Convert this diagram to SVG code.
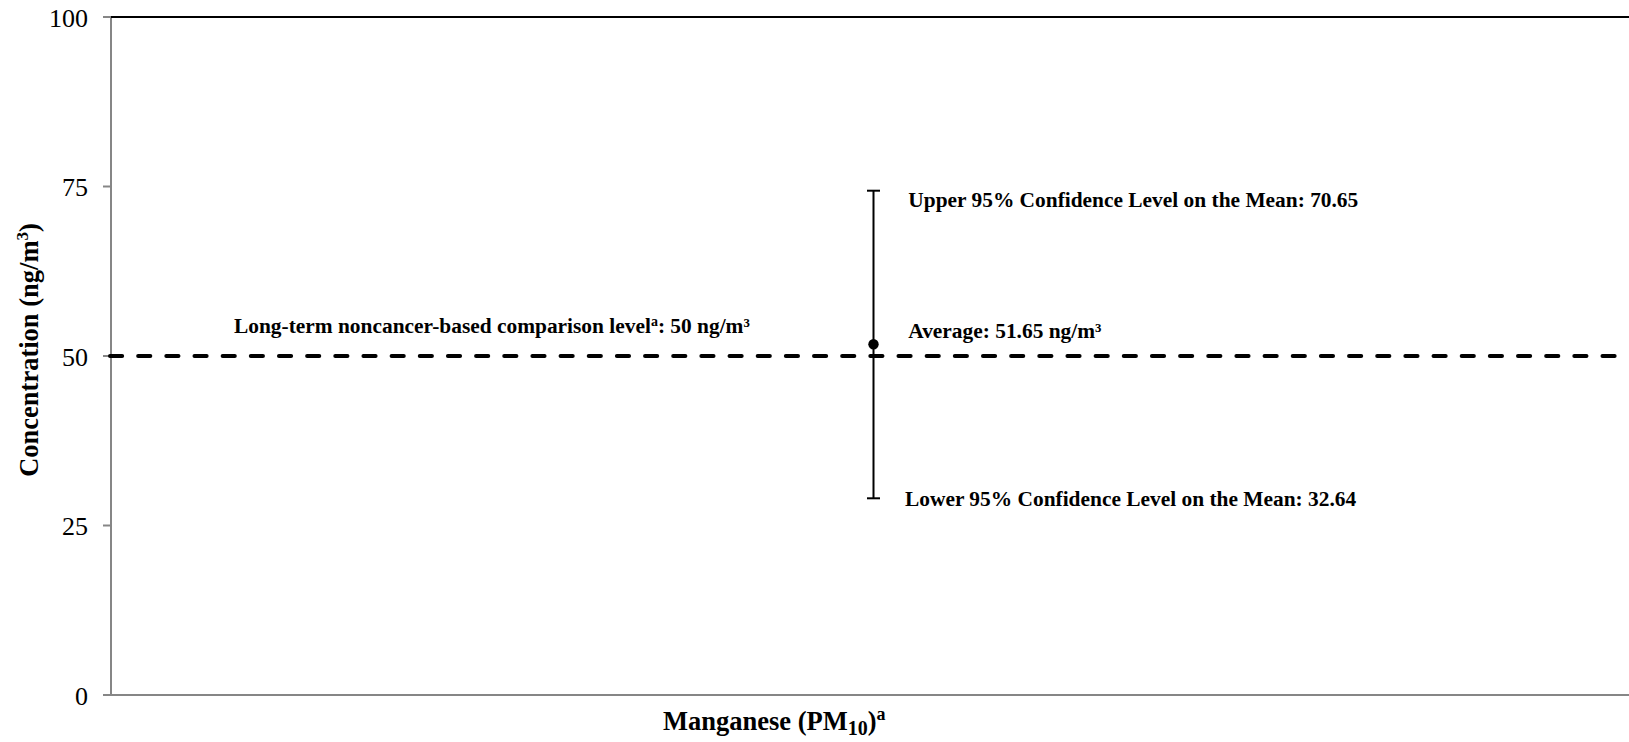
<svg xmlns="http://www.w3.org/2000/svg" width="1629" height="742" viewBox="0 0 1629 742">
<style>
.tick{font-family:"Liberation Serif","Times New Roman",serif;font-size:26px;fill:#000;text-anchor:end}
.lbl{font-family:"Liberation Serif","Times New Roman",serif;font-size:21.4px;font-weight:bold;fill:#000}
.ttl{font-family:"Liberation Serif","Times New Roman",serif;font-size:26.5px;font-weight:bold;fill:#000}
.ax{stroke:#868686;stroke-width:2;fill:none}
</style>
<rect width="1629" height="742" fill="#fff"/>
<g id="axes">
<line class="ax" x1="111" y1="17" x2="111" y2="695"/>
<line class="ax" x1="103" y1="695" x2="1629" y2="695"/>
<line class="ax" x1="103" y1="17" x2="111" y2="17"/>
<line class="ax" x1="103" y1="186.5" x2="111" y2="186.5"/>
<line class="ax" x1="103" y1="356" x2="111" y2="356"/>
<line class="ax" x1="103" y1="525.5" x2="111" y2="525.5"/>
<line x1="111" y1="17" x2="1629" y2="17" stroke="#000" stroke-width="2"/>
<text class="tick" x="88" y="26.5">100</text>
<text class="tick" x="88" y="196">75</text>
<text class="tick" x="88" y="365.5">50</text>
<text class="tick" x="88" y="535">25</text>
<text class="tick" x="88" y="704.5">0</text>
<text class="ttl" font-size="27" transform="translate(38,350) rotate(-90)" text-anchor="middle">Concentration (ng/m<tspan font-size="17" dy="-10">3</tspan><tspan dy="10">)</tspan></text>
<text class="ttl" x="663" y="730">Manganese (PM<tspan font-size="20" dy="5">10</tspan><tspan dy="-5">)</tspan><tspan font-size="18" dy="-10">a</tspan></text>
</g>
<g id="connectors">
<line x1="110" y1="356" x2="1629" y2="356" stroke="#000" stroke-width="4" stroke-linecap="round" stroke-dasharray="12.16 16"/>
</g>
<g id="comparison-level">
<text class="lbl" x="234" y="333.3">Long-term noncancer-based comparison level<tspan font-size="14" dy="-7">a</tspan><tspan dy="7">: 50 ng/m³</tspan></text>
</g>
<g id="error-bar">
<line x1="873.5" y1="190.7" x2="873.5" y2="498.3" stroke="#000" stroke-width="2"/>
<line x1="867" y1="190.7" x2="880" y2="190.7" stroke="#000" stroke-width="2"/>
<line x1="867" y1="498.3" x2="880" y2="498.3" stroke="#000" stroke-width="2"/>
<circle cx="873.5" cy="344.3" r="5.2" fill="#000"/>
</g>
<g id="upper-label"><text class="lbl" x="908.3" y="207.3">Upper 95% Confidence Level on the Mean: 70.65</text></g>
<g id="average-label"><text class="lbl" x="908.3" y="338.3">Average: 51.65 ng/m³</text></g>
<g id="lower-label"><text class="lbl" x="905" y="506">Lower 95% Confidence Level on the Mean: 32.64</text></g>
</svg>
